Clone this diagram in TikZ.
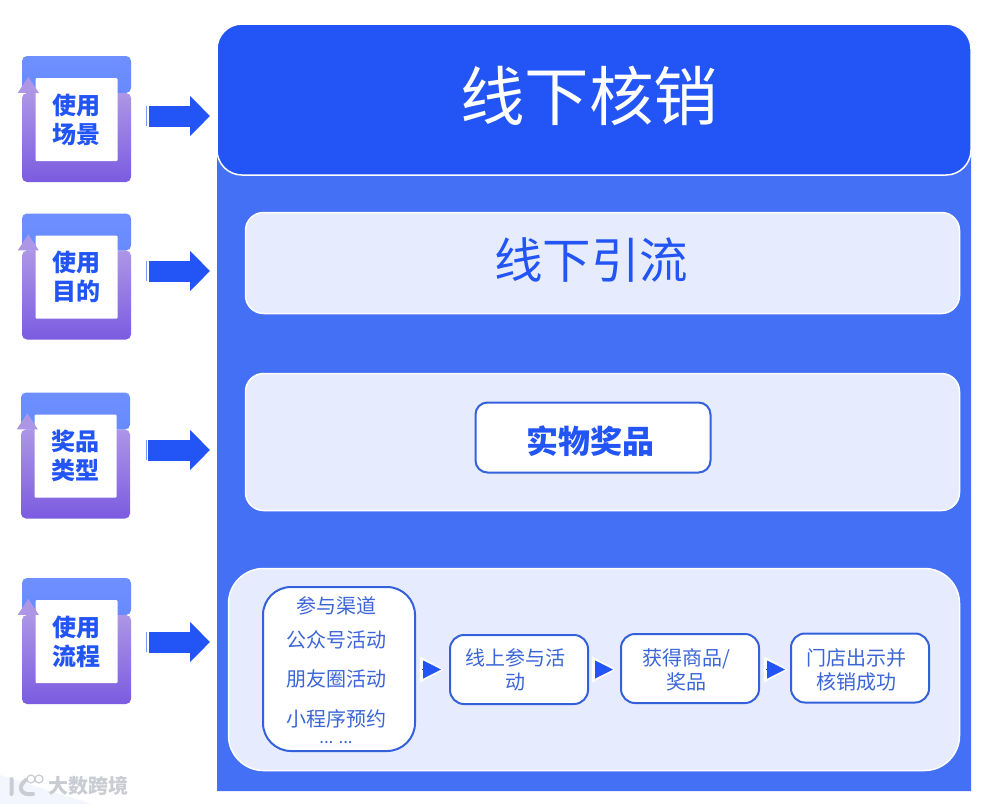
\documentclass[tikz,border=0pt]{standalone}
\usepackage{fontspec}
\setmainfont{Noto Sans CJK SC}
\usetikzlibrary{arrows.meta}
\definecolor{headblue}{HTML}{2355F6}
\definecolor{panelblue}{HTML}{4470F5}
\definecolor{palepanel}{HTML}{E6ECFD}
\definecolor{boxline}{HTML}{3560DC}
\definecolor{flowtext}{HTML}{3C66D8}
\definecolor{cardtop}{HTML}{6E8FFF}
\definecolor{cardmid}{HTML}{5580F8}
\definecolor{cardlilac}{HTML}{AD96E6}
\definecolor{cardlow}{HTML}{7B5BE0}
\definecolor{stamp}{HTML}{C9CCD2}
\tikzset{
  cardbox/.style={rectangle,rounded corners=5pt,minimum width=109pt,minimum height=126pt,inner sep=0pt,
    path picture={
      \shade[top color=cardtop,bottom color=cardmid] (path picture bounding box.north west) rectangle ([yshift=-37pt]path picture bounding box.north east);
      \shade[top color=cardlilac,bottom color=cardlow] ([yshift=-37pt]path picture bounding box.north west) rectangle (path picture bounding box.south east);
    }},
  cardlabel/.style={rectangle,rounded corners=1pt,fill=white,minimum width=82pt,minimum height=83pt,inner sep=0pt,
    align=center,text=headblue,font=\fontsize{24}{29}\selectfont\bfseries},
  panel/.style={rectangle,draw=white,line width=1.5pt,fill=palepanel,inner sep=0pt},
  stepbox/.style={rectangle,draw=boxline,line width=2pt,fill=white,rounded corners=14pt,inner sep=0pt,
    minimum width=138pt,minimum height=69pt},
  steptext/.style={inner sep=0pt,align=center,text=flowtext,font=\fontsize{20}{24.5}\selectfont},
  bigarrow/.style={draw=headblue,line width=21pt,-{Triangle[length=20pt,width=39pt]},shorten <=18pt,shorten >=7pt},
  flowarrow/.style={draw=headblue,line width=1pt,-{Triangle[length=18pt,width=18pt]},shorten <=6pt,shorten >=#1,
    preaction={draw=white,line width=1pt,-{Triangle[length=24pt,width=26pt]},shorten <=3pt,shorten >=#1-3pt}},
}
\begin{document}
\begin{tikzpicture}[x=1pt,y=-1pt]
  \useasboundingbox (0,0) rectangle (985,804);
  \fill[panelblue] (217,791) [rounded corners=25pt] -- (217,24) -- (971,24) [sharp corners] -- (971,791) -- cycle;
  \node[rectangle,draw=white,line width=1.5pt,fill=headblue,rounded corners=25pt,minimum width=754pt,minimum height=151pt] (title) at (594,99.5) {};
  \node[text=white,font=\fontsize{64.5}{70}\selectfont] (titleText) at (589,96) {线下核销};
  \node[panel,rounded corners=18pt,minimum width=714pt,minimum height=101pt] (goalPanel) at (602.5,263) {};
  \node[text=headblue,font=\fontsize{48.5}{52}\selectfont] (goalText) at (591,260) {线下引流};
  \node[panel,rounded corners=18pt,minimum width=714pt,minimum height=137pt] (prizePanel) at (602.5,442) {};
  \node[stepbox,rounded corners=12pt,minimum width=235pt,minimum height=70pt] (prizeBox) at (593,437.5) {};
  \node[text=headblue,font=\fontsize{32}{36}\selectfont\bfseries] (prizeText) at (590.5,441) {实物奖品};
  \node[panel,rounded corners=35pt,minimum width=731pt,minimum height=202pt] (flowPanel) at (594,669.5) {};

  \foreach \name/\xc/\yc/\tipy/\lab in {scene/76.5/119/116/{使用\\场景}, goal/76.5/276.5/271/{使用\\目的}, prize/75.5/455.5/450/{奖品\\类型}, flow/76.5/641/642/{使用\\流程}} {
    \node[cardbox] (\name Card) at (\xc,\yc) {};
    \node[cardlabel] (\name Label) at ([yshift=-0.5pt]\name Card.center) {\lab};
    \fill[cardlilac] ([xshift=6.5pt,yshift=-21pt]\name Card.north west) -- ([xshift=17pt,yshift=-37pt]\name Card.north west) -- ([xshift=-4pt,yshift=-37pt]\name Card.north west) -- cycle;
    \coordinate (\name Tip) at (217,\tipy);
    \draw[bigarrow] (\name Card.east |- \name Tip) -- (\name Tip);
    \draw[headblue!60!white,line width=1.2pt] (146.5,\tipy-10) -- (146.5,\tipy+10);
  }

  \node[stepbox,rounded corners=28pt,minimum width=152pt,minimum height=164pt] (channels) at (339,669) {};
  \foreach \y/\lab in {606/{参与渠道}, 640/{公众号活动}, 679/{朋友圈活动}, 719/{小程序预约}} {
    \node[steptext] (ch\y) at (336,\y) {\lab};
  }
  \node[steptext,font=\fontsize{17}{20}\selectfont,text height=4pt,text depth=0pt] (chMore) at (336,741) {... ...};
  \foreach \name/\xc/\yc/\lab in {online/519/669.5/{线上参与活\\动}, getPrize/690/668.5/{获得商品/\\奖品}, redeem/860/668/{门店出示并\\核销成功}} {
    \node[stepbox] (\name) at (\xc,\yc) {};
    \node[steptext] (\name Text) at (\xc-3.5,670) {\lab};
  }
  \draw[flowarrow=8pt] (channels.east |- online.east) -- (online.west);
  \draw[flowarrow=7pt] (online.east) -- (getPrize.west |- online.east);
  \draw[flowarrow=5pt] (getPrize.east |- online.east) -- (redeem.west |- online.east);

  \fill[palepanel!50!white] (0,775) -- (92,804) -- (0,804) -- cycle;
  \draw[stamp,line width=4pt,line cap=round] (11.5,779) -- (11.5,794) (26,780) .. controls (17,786) and (20,796) .. (33,794);
  \draw[stamp,line width=1.2pt] (31,779) circle (4pt) (39,779) circle (4pt);
  \node[text=stamp,font=\fontsize{20}{22}\selectfont\bfseries] (stampText) at (88,786) {大数跨境};
\end{tikzpicture}
\end{document}
